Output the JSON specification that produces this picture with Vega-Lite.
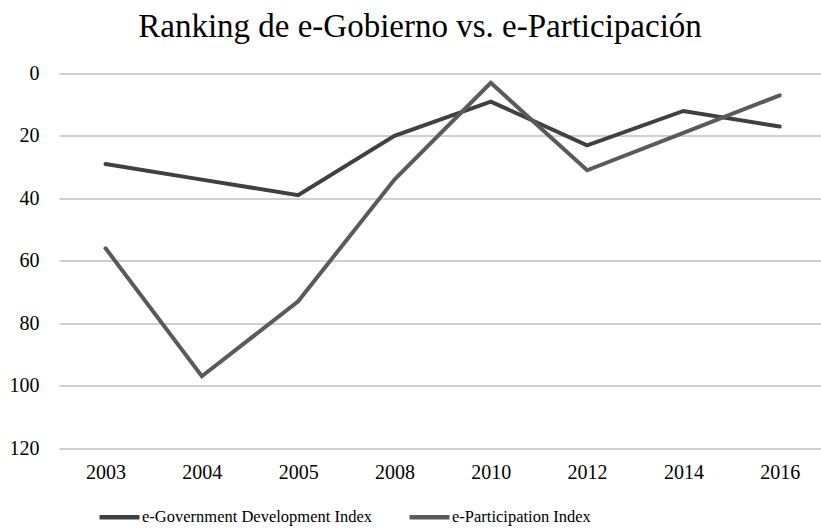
{
  "$schema": "https://vega.github.io/schema/vega-lite/v6.json",
  "width": 762,
  "height": 374.5,
  "autosize": {"type": "none"},
  "padding": {"left": 59, "top": 73.5, "right": 0, "bottom": 84},
  "background": "white",
  "title": {
    "text": "Ranking de e-Gobierno vs. e-Participación",
    "font": "'Liberation Serif', 'Times New Roman', Times, serif",
    "fontSize": 33,
    "fontWeight": "normal",
    "color": "#000000",
    "anchor": "middle",
    "dx": -20,
    "baseline": "alphabetic",
    "offset": -6
  },
  "config": {"view": {"stroke": null}},
  "data": {
    "values": [
      {"year": "2003", "index": "e-Government Development Index", "rank": 29},
      {"year": "2004", "index": "e-Government Development Index", "rank": 34},
      {"year": "2005", "index": "e-Government Development Index", "rank": 39},
      {"year": "2008", "index": "e-Government Development Index", "rank": 20},
      {"year": "2010", "index": "e-Government Development Index", "rank": 9},
      {"year": "2012", "index": "e-Government Development Index", "rank": 23},
      {"year": "2014", "index": "e-Government Development Index", "rank": 12},
      {"year": "2016", "index": "e-Government Development Index", "rank": 17},
      {"year": "2003", "index": "e-Participation Index", "rank": 56},
      {"year": "2004", "index": "e-Participation Index", "rank": 97},
      {"year": "2005", "index": "e-Participation Index", "rank": 73},
      {"year": "2008", "index": "e-Participation Index", "rank": 34},
      {"year": "2010", "index": "e-Participation Index", "rank": 3},
      {"year": "2012", "index": "e-Participation Index", "rank": 31},
      {"year": "2014", "index": "e-Participation Index", "rank": 19},
      {"year": "2016", "index": "e-Participation Index", "rank": 7}
    ]
  },
  "mark": {"type": "line", "strokeWidth": 4, "strokeCap": "round", "strokeJoin": "miter"},
  "encoding": {
    "x": {
      "field": "year",
      "type": "ordinal",
      "sort": null,
      "scale": {"type": "point", "padding": 0.456, "align": 0.53},
      "axis": {
        "title": null,
        "labelAngle": 0,
        "domain": false,
        "ticks": false,
        "grid": false,
        "labelFont": "'Liberation Serif', 'Times New Roman', Times, serif",
        "labelFontSize": 20,
        "labelColor": "#000000",
        "labelPadding": 14
      }
    },
    "y": {
      "field": "rank",
      "type": "quantitative",
      "scale": {"domain": [0, 120], "reverse": true, "nice": false, "zero": false},
      "axis": {
        "title": null,
        "values": [0, 20, 40, 60, 80, 100, 120],
        "domain": false,
        "ticks": false,
        "grid": true,
        "gridColor": "#c0c0c0",
        "gridWidth": 1.5,
        "labelFont": "'Liberation Serif', 'Times New Roman', Times, serif",
        "labelFontSize": 20,
        "labelColor": "#000000",
        "labelPadding": 20
      }
    },
    "color": {
      "field": "index",
      "type": "nominal",
      "scale": {
        "domain": ["e-Government Development Index", "e-Participation Index"],
        "range": ["#404040", "#5a5a5a"]
      },
      "legend": {
        "title": null,
        "orient": "none",
        "legendX": 38,
        "legendY": 421,
        "direction": "horizontal",
        "symbolType": "stroke",
        "symbolSize": 1600,
        "symbolStrokeWidth": 4.5,
        "labelOffset": 0,
        "columnPadding": 27,
        "labelFont": "'Liberation Serif', 'Times New Roman', Times, serif",
        "labelFontSize": 16.5,
        "labelColor": "#000000",
        "labelLimit": 400
      }
    }
  }
}
